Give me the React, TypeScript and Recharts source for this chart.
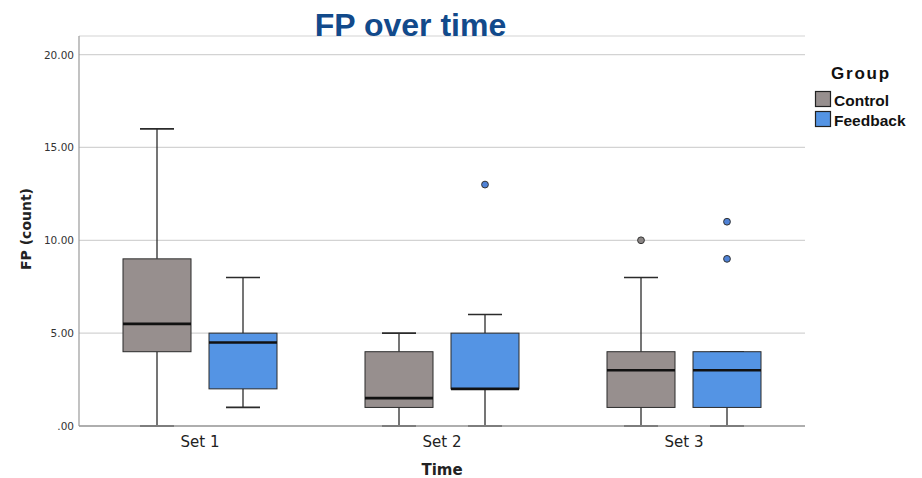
import React from 'react';
import { ComposedChart, Bar, XAxis, YAxis, CartesianGrid } from 'recharts';

const categories = ['Set 1', 'Set 2', 'Set 3'];
const groupNames = ['Control', 'Feedback'];

const controlMin = [0, 0, 0];
const controlQ1 = [4, 1, 1];
const controlMedian = [5.5, 1.5, 3];
const controlQ3 = [9, 4, 4];
const controlMax = [16, 5, 8];
const controlOutliers: number[][] = [[], [], [10]];

const feedbackMin = [1, 0, 0];
const feedbackQ1 = [2, 2, 1];
const feedbackMedian = [4.5, 2, 3];
const feedbackQ3 = [5, 5, 4];
const feedbackMax = [8, 6, 4];
const feedbackOutliers: number[][] = [[], [13], [9, 11]];

const yTicks = [0, 5, 10, 15, 20];

const data = categories.map((name, i) => ({
  name,
  control: [controlMin[i], controlMax[i]],
  controlStats: {
    min: controlMin[i], q1: controlQ1[i], med: controlMedian[i], q3: controlQ3[i], max: controlMax[i], out: controlOutliers[i],
  },
  feedback: [feedbackMin[i], feedbackMax[i]],
  feedbackStats: {
    min: feedbackMin[i], q1: feedbackQ1[i], med: feedbackMedian[i], q3: feedbackQ3[i], max: feedbackMax[i], out: feedbackOutliers[i],
  },
}));

const COLORS = {
  control: '#978f8e',
  feedback: '#5494e4',
  controlOut: '#8a8584',
  feedbackOut: '#4f82d6',
};

const AXISFONT = "'DejaVu Sans', 'Liberation Sans', sans-serif";

function makeBoxShape(key: 'control' | 'feedback', fill: string, outFill: string) {
  return (props: any) => {
    const { x, y, width, height, payload } = props;
    const s = payload[key + 'Stats'];
    const top = Math.min(y, y + height);
    const h = Math.abs(height);
    const px = s.max - s.min > 0 ? h / (s.max - s.min) : 0;
    const toY = (v: number) => top + (s.max - v) * px;
    const cx = x + width / 2;
    const capW = width / 2;
    const stroke = '#2b2b2b';
    return (
      <g>
        <line x1={cx} x2={cx} y1={toY(s.max)} y2={toY(s.q3)} stroke={stroke} strokeWidth={1.3} />
        <line x1={cx} x2={cx} y1={toY(s.q1)} y2={toY(s.min)} stroke={stroke} strokeWidth={1.3} />
        <line x1={cx - capW / 2} x2={cx + capW / 2} y1={toY(s.max)} y2={toY(s.max)} stroke={stroke} strokeWidth={1.6} />
        <line x1={cx - capW / 2} x2={cx + capW / 2} y1={toY(s.min)} y2={toY(s.min)} stroke={stroke} strokeWidth={1.8} />
        <rect x={x} y={toY(s.q3)} width={width} height={toY(s.q1) - toY(s.q3)} fill={fill} stroke={stroke} strokeWidth={1} />
        <line x1={x} x2={x + width} y1={toY(s.med)} y2={toY(s.med)} stroke="#111" strokeWidth={2.6} />
        {s.out.map((o: number, j: number) => (
          <circle key={j} cx={cx} cy={toY(o)} r={3.4} fill={outFill} stroke="#333" strokeWidth={1} />
        ))}
      </g>
    );
  };
}

const YTick = (props: any) => {
  const { x, y, payload } = props;
  const v = payload.value;
  const label = v === 0 ? '.00' : v.toFixed(2);
  return (
    <text x={x} y={y} dy={4} textAnchor="end" fontSize={10.5} fill="#333" fontFamily={AXISFONT}>
      {label}
    </text>
  );
};

const XTick = (props: any) => {
  const { x, y, payload } = props;
  return (
    <text x={x} y={y} dy={11} textAnchor="middle" fontSize={15} fill="#222" fontFamily={AXISFONT}>
      {payload.value}
    </text>
  );
};

export default function App() {
  return (
    <div style={{ position: 'absolute', left: 0, top: 0, width: 922, height: 478, background: '#fff' }}>
      <ComposedChart
        width={922}
        height={478}
        data={data}
        margin={{ top: 36, right: 117, bottom: 0, left: 0 }}
        barGap={18}
        barSize={68}
      >
        <CartesianGrid horizontal vertical={false} stroke="#d3d3d3" strokeWidth={1.2} />
        <XAxis
          dataKey="name"
          height={52}
          tickLine={false}
          tickSize={0}
          tickMargin={10}
          axisLine={{ stroke: '#9a9a9a', strokeWidth: 1.5 }}
          tick={<XTick />}
        />
        <YAxis
          type="number"
          domain={[0, 21]}
          ticks={yTicks}
          width={79}
          tickLine={false}
          tickSize={0}
          tickMargin={5}
          axisLine={{ stroke: '#9a9a9a', strokeWidth: 1.2 }}
          tick={<YTick />}
        />
        <Bar dataKey="control" isAnimationActive={false} shape={makeBoxShape('control', COLORS.control, COLORS.controlOut)} />
        <Bar dataKey="feedback" isAnimationActive={false} shape={makeBoxShape('feedback', COLORS.feedback, COLORS.feedbackOut)} />
      </ComposedChart>
      <svg width={922} height={478} style={{ position: 'absolute', left: 0, top: 0, pointerEvents: 'none' }}>
        <text x={410.5} y={36} textAnchor="middle" fontSize={32} fontWeight="bold" fill="#124a8b" fontFamily="'Liberation Sans', Arial, sans-serif">
          FP over time
        </text>
        <text x={442} y={475} textAnchor="middle" fontSize={15} fontWeight="bold" fill="#222" fontFamily={AXISFONT}>
          Time
        </text>
        <text x={0} y={0} transform="translate(31,229) rotate(-90)" textAnchor="middle" fontSize={14} fontWeight="bold" fill="#222" fontFamily={AXISFONT}>
          FP (count)
        </text>
        <text x={861} y={79} textAnchor="middle" fontSize={17} fontWeight="bold" letterSpacing={1.8} fill="#111" fontFamily="'Liberation Sans', Arial, sans-serif">
          Group
        </text>
        {groupNames.map((g, i) => (
          <g key={g}>
            <rect x={815.5} y={91.5 + i * 20} width={15} height={15} fill={i === 0 ? COLORS.control : COLORS.feedback} stroke="#222" strokeWidth={1.2} />
            <text x={834} y={106 + i * 20} fontSize={15.5} fontWeight="bold" fill="#111" fontFamily="'Liberation Sans', Arial, sans-serif">
              {g}
            </text>
          </g>
        ))}
      </svg>
    </div>
  );
}
